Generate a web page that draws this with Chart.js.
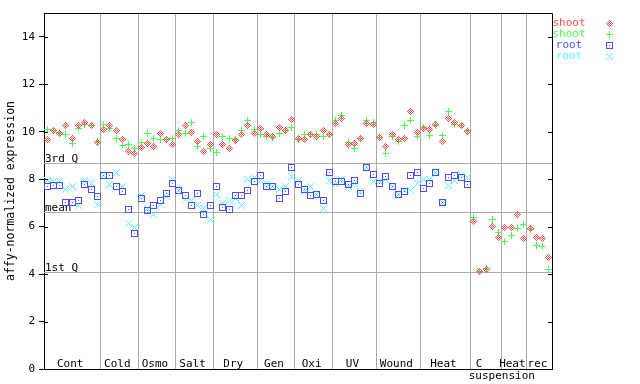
<!DOCTYPE html>
<html><head><meta charset="utf-8">
<script src="https://cdn.jsdelivr.net/npm/chart.js@4/dist/chart.umd.min.js"></script>
<style>html,body{margin:0;padding:0;background:#fff}canvas{display:block}</style>
</head><body>
<canvas id="c" width="640" height="384"></canvas>
<script>
// ---------- data ----------
const groupLabels = ['Cont','Cold','Osmo','Salt','Dry','Gen','Oxi','UV','Wound','Heat','C','Heat','rec'];
const groupSizes  = [9,6,6,6,7,6,6,7,7,8,5,4,4];
const groupSubLabels = ['','','','','','','','','','','suspension','',''];
const yTicks = [0,2,4,6,8,10,12,14];
const refLabels = ['3rd Q','mean','1st Q'];
const refValues = [8.68, 6.61, 4.07];
const seriesNames = ['shoot','shoot','root','root'];

const shootRep1 = [9.65,10.05,9.94,10.25,9.70,10.25,10.40,10.28,9.56,
  10.11,10.25,10.03,9.69,9.18,9.06,
  9.35,9.52,9.39,9.91,9.65,9.48,
  9.90,10.28,9.98,9.60,9.18,9.44,
  9.86,9.48,9.31,9.62,9.90,10.28,9.94,
  10.15,9.86,9.81,10.19,10.03,10.53,
  9.73,9.69,9.90,9.81,10.07,9.90,
  10.36,10.57,9.48,9.52,9.73,10.36,10.32,
  9.77,9.39,9.90,9.69,9.73,10.87,9.98,
  10.13,10.11,10.32,9.60,10.57,10.40,10.24,10.02,
  6.22,4.09,4.18,6.02,5.56,
  5.98,5.98,6.49,5.48,
  5.94,5.56,5.48,4.68];
const shootRep2 = [10.08,10.05,9.95,9.90,9.49,10.15,10.29,10.26,9.57,
  10.32,10.15,9.73,9.41,9.45,9.28,
  9.56,9.94,9.73,9.69,9.69,9.73,
  10.07,9.94,10.40,9.39,9.81,9.31,
  9.14,9.81,9.73,9.65,10.07,10.45,10.11,
  9.86,9.81,9.77,9.94,10.07,10.19,
  9.65,9.86,9.86,9.90,9.81,9.90,
  10.49,10.70,9.56,9.31,9.73,10.49,10.40,
  9.77,9.06,9.81,9.60,10.28,10.49,9.81,
  10.16,9.83,10.24,9.83,10.83,10.32,10.28,10.07,
  6.40,4.09,4.25,6.29,5.77,
  5.39,5.64,5.94,6.07,
  5.86,5.22,5.18,4.21];
const rootRep1 = [7.71,7.75,7.75,7.03,7.01,7.12,7.79,7.58,7.25,
  8.17,8.17,7.67,7.50,6.74,5.73,
  7.20,6.66,6.91,7.12,7.41,7.83,
  7.54,7.29,6.91,7.41,6.53,6.91,
  7.67,6.82,6.70,7.29,7.33,7.54,7.88,
  8.17,7.71,7.67,7.20,7.50,8.47,
  7.79,7.58,7.33,7.37,7.08,8.30,
  7.92,7.92,7.79,7.96,7.41,8.47,8.21,
  7.83,8.13,7.67,7.37,7.50,8.17,8.26,
  7.62,7.83,8.30,7.03,8.05,8.17,8.05,7.79,
  null,null,null,null,null,
  null,null,null,null,
  null,null,null,null];
const rootRep2 = [7.96,7.92,7.92,7.58,7.67,6.89,7.88,7.83,6.95,
  8.17,7.79,8.30,7.71,6.15,5.98,
  7.33,6.78,6.49,6.95,7.25,7.97,
  7.54,7.16,7.08,6.87,6.78,6.32,
  7.37,6.99,7.12,7.20,6.91,8.00,8.05,
  7.96,7.83,7.67,7.58,7.71,8.13,
  7.96,7.50,7.67,7.37,6.78,7.96,
  7.79,8.00,7.67,7.83,7.46,8.47,7.88,
  7.92,8.00,7.67,7.37,7.54,7.54,7.83,
  8.00,8.00,8.30,7.03,7.75,7.96,8.21,8.05,
  null,null,null,null,null,
  null,null,null,null,
  null,null,null,null];

// ---------- styles ----------
const FONT = '"DejaVu Sans Mono", "Liberation Mono", monospace';
const colors = ['#ff4d4d', '#4dff4d', '#4d4dff', '#4dffff'];
const kinds  = ['diamond', 'plus', 'square', 'cross'];
const GRID = '#aaaaaa';

function makeMarker(kind, color) {
  const c = document.createElement('canvas');
  c.width = 9; c.height = 9;
  const g = c.getContext('2d');
  g.fillStyle = color;
  for (let dy = -3; dy <= 3; dy++) {
    for (let dx = -3; dx <= 3; dx++) {
      const ax = Math.abs(dx), ay = Math.abs(dy);
      let on = false;
      if (kind === 'diamond') on = (ax + ay <= 3) && ((ax + ay) % 2 === 1);
      else if (kind === 'plus') on = (dx === 0 || dy === 0);
      else if (kind === 'cross') on = (ax === ay);
      else if (kind === 'square') on = (Math.max(ax, ay) === 3) || (dx === 0 && dy === 0);
      if (on) g.fillRect(4 + dx, 4 + dy, 1, 1);
    }
  }
  return c;
}
const markers = kinds.map((k, i) => makeMarker(k, colors[i]));

const totalN = groupSizes.reduce((a, b) => a + b, 0);
const boundaries = [];
{ let s = 0; for (let i = 0; i < groupSizes.length - 1; i++) { s += groupSizes[i]; boundaries.push(s); } }

function toPoints(arr) {
  return arr.map((v, i) => ({ x: i + 0.5, y: v }));
}
const allSeries = [shootRep1, shootRep2, rootRep1, rootRep2];

const datasets = allSeries.map((arr, i) => ({
  label: seriesNames[i],
  data: toPoints(arr),
  showLine: false,
  pointStyle: markers[i],
  pointRadius: 4,
  pointHoverRadius: 4,
  borderColor: colors[i],
  backgroundColor: colors[i]
}));

const decor = {
  id: 'decor',
  beforeDraw(chart) {
    chart.ctx.imageSmoothingEnabled = false;
  },
  beforeDatasetsDraw(chart) {
    const ctx = chart.ctx, a = chart.chartArea, ys = chart.scales.y;
    ctx.save();
    ctx.imageSmoothingEnabled = false;
    ctx.strokeStyle = GRID; ctx.lineWidth = 1;
    ctx.fillStyle = '#000';
    ctx.font = '11px ' + FONT;
    ctx.textBaseline = 'alphabetic';
    ctx.textAlign = 'left';
    refValues.forEach((v, i) => {
      const y = Math.round(ys.getPixelForValue(v)) + 0.5;
      ctx.beginPath(); ctx.moveTo(a.left, y); ctx.lineTo(a.right, y); ctx.stroke();
      ctx.fillText(refLabels[i], a.left + 1, y - 2);
    });
    ctx.restore();
    chart.ctx.imageSmoothingEnabled = false;
  },
  afterDraw(chart) {
    const ctx = chart.ctx, a = chart.chartArea, ys = chart.scales.y, xs = chart.scales.x;
    ctx.save();
    ctx.strokeStyle = '#000'; ctx.lineWidth = 1;
    // frame top and right
    ctx.beginPath();
    ctx.moveTo(a.left, a.top + 0.5); ctx.lineTo(a.right + 0.5, a.top + 0.5);
    ctx.lineTo(a.right + 0.5, a.bottom);
    ctx.stroke();
    // inner ticks
    yTicks.forEach(v => {
      const y = Math.round(ys.getPixelForValue(v)) + 0.5;
      ctx.beginPath();
      ctx.moveTo(a.left, y); ctx.lineTo(a.left + 4, y);
      ctx.moveTo(a.right - 4, y); ctx.lineTo(a.right, y);
      ctx.stroke();
    });
    // group labels
    ctx.fillStyle = '#000';
    ctx.font = '11px ' + FONT;
    ctx.textBaseline = 'middle';
    ctx.textAlign = 'center';
    let s = 0;
    groupLabels.forEach((lab, i) => {
      const n = groupSizes[i];
      let cx = xs.getPixelForValue(s + n / 2) - 2;
      if (groupSubLabels[i]) {
        cx = xs.getPixelForValue(s + n / 2) - 7;
        ctx.fillText(groupSubLabels[i], xs.getPixelForValue(s + n), a.bottom + 7.5);
      }
      ctx.fillText(lab, cx, a.bottom - 5);
      s += n;
    });
    // legend
    ctx.imageSmoothingEnabled = false;
    const ly = [23, 34.5, 45.5, 56.5];
    seriesNames.forEach((name, i) => {
      ctx.fillStyle = colors[i];
      ctx.fillText(name, 569, ly[i]);
      ctx.drawImage(markers[i], 609 - 4.5, ly[i] - 4.5);
    });
    ctx.restore();
  }
};

new Chart(document.getElementById('c'), {
  type: 'scatter',
  data: { datasets },
  options: {
    responsive: false,
    animation: false,
    events: [],
    layout: { padding: { left: 0, top: 13, right: 88, bottom: 0 } },
    plugins: { legend: { display: false }, tooltip: { enabled: false } },
    scales: {
      x: {
        type: 'linear', min: 0, max: totalN,
        afterBuildTicks: (sc) => { sc.ticks = boundaries.map(v => ({ value: v })); },
        afterFit: (sc) => { sc.height = 15; },
        ticks: { display: false },
        grid: { color: GRID, lineWidth: 1, drawTicks: false },
        border: { display: true, color: '#000', width: 1 }
      },
      y: {
        type: 'linear', min: 0, max: 15,
        afterBuildTicks: (sc) => { sc.ticks = yTicks.map(v => ({ value: v })); },
        afterFit: (sc) => { sc.width = 44; },
        ticks: { color: '#000', font: { family: FONT, size: 11 }, padding: 4 },
        grid: { drawOnChartArea: false, drawTicks: true, tickLength: 5, color: '#000' },
        border: { display: true, color: '#000', width: 1 },
        title: { display: true, text: 'affy-normalized expression', color: '#000',
                 font: { family: FONT, size: 11.5 }, padding: { top: 4, bottom: 0 } }
      }
    }
  },
  plugins: [decor]
});
</script>
</body></html>
